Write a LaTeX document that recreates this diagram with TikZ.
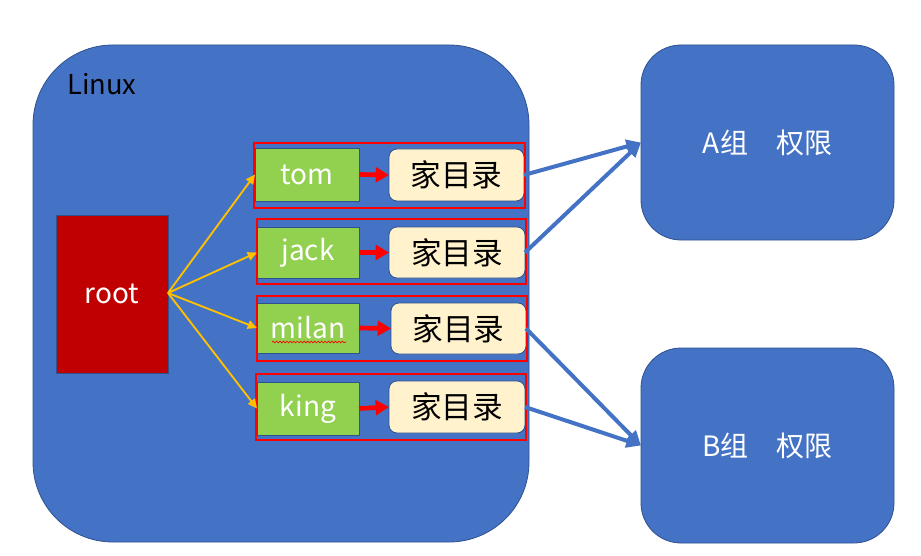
\documentclass[tikz,border=0pt]{standalone}
\usepackage{fontspec}
\setmainfont{Noto Sans CJK SC}
\usetikzlibrary{arrows.meta,decorations.pathmorphing}
\definecolor{pblue}{HTML}{4472C4}
\definecolor{pedge}{HTML}{2F528F}
\definecolor{pred}{HTML}{C00000}
\definecolor{pgreen}{HTML}{92D050}
\definecolor{pcream}{HTML}{FFF2CC}
\definecolor{pgold}{HTML}{FFC000}
\begin{document}
\begin{tikzpicture}[x=0.75pt,y=-0.75pt,
  sz/.style 2 args={minimum width=#1*0.75pt, minimum height=#2*0.75pt},
  box/.style={inner sep=0pt, outer sep=0pt, draw=pedge, line width=0.6pt, anchor=center},
  bigbox/.style={box, fill=pblue, rounded corners=60pt},
  grpbox/.style={box, fill=pblue, rounded corners=30pt, text=white, font=\fontsize{21}{25}\selectfont},
  rootbox/.style={box, fill=pred, text=white, font=\fontsize{21}{25}\selectfont},
  userbox/.style={box, fill=pgreen, text=white, font=\fontsize{21}{25}\selectfont},
  homebox/.style={box, fill=pcream, rounded corners=6pt, text=black, font=\fontsize{23}{27}\selectfont},
  rowframe/.style={inner sep=0pt, outer sep=0pt, draw=red, line width=1.6pt},
  redarrow/.style={draw=red, line width=3.5pt, -{Triangle[length=10pt,width=11pt]}},
  goldarrow/.style={draw=pgold, line width=1.4pt, -{Triangle[length=7pt,width=6.5pt]}},
  bluearrow/.style={draw=pblue, line width=3pt, -{Triangle[length=11pt,width=10pt]}}
]
\useasboundingbox[fill=white] (0,0) rectangle (921,556);

% main Linux box
\node[bigbox, sz={496}{497}] (linux) at (281,293.5) {};
\node[anchor=west, font=\fontsize{20.5}{24}\selectfont, inner sep=0pt] (linuxlbl) at (67,84) {Linux};

% root
\node[rootbox, sz={112}{158}] (root) at (112,294) {root};
\coordinate (rootout) at (168,293);

% users
\node[userbox, sz={104}{53}] (tom) at (307,174.5) {tom};
\node[userbox, sz={102}{51}] (jack) at (308,252.5) {jack};
\node[userbox, sz={102}{50}] (milan) at (308,328) {milan};
\node[userbox, sz={102}{53}] (king) at (308,408.5) {king};

% home dirs
\node[homebox, sz={135}{52}] (tomh) at (456.5,175) {家目录};
\node[homebox, sz={136}{51}] (jackh) at (457,252.5) {家目录};
\node[homebox, sz={135}{51}] (milanh) at (458.5,328.5) {家目录};
\node[homebox, sz={136}{52}] (kingh) at (457,407) {家目录};

% red frames
\node[rowframe, sz={271}{65}] (tomf) at (389.5,175.5) {};
\node[rowframe, sz={269}{65}] (jackf) at (391.5,251.5) {};
\node[rowframe, sz={270}{65}] (milanf) at (392,328.5) {};
\node[rowframe, sz={270}{66}] (kingf) at (391,407) {};

% spell-check squiggle under milan
\draw[red, line width=0.5pt, decorate, decoration={snake, amplitude=0.6pt, segment length=2.6pt}] (272,342) -- (346,342);

% group boxes
\node[grpbox, sz={253}{195}] (ga) at (767.5,142.5) {A组　权限};
\node[grpbox, sz={253}{195}] (gb) at (767.5,445.5) {B组　权限};

% root -> users
\draw[goldarrow] (rootout) -- (tom.west);
\draw[goldarrow] (rootout) -- (jack.west);
\draw[goldarrow] (rootout) -- (milan.west);
\draw[goldarrow] (rootout) -- (king.west);

% user -> home
\draw[redarrow] (tom.east) -- (tomh.west);
\draw[redarrow] (jack.east) -- (jackh.west);
\draw[redarrow] (milan.east) -- (milanh.west);
\draw[redarrow] (king.east) -- (kingh.west);

% home -> groups
\draw[bluearrow] (tomh.east) -- (ga.west);
\draw[bluearrow] (jackh.east) -- (ga.west);
\draw[bluearrow] (milanh.east) -- (gb.west);
\draw[bluearrow] (kingh.east) -- (gb.west);
\end{tikzpicture}
\end{document}
